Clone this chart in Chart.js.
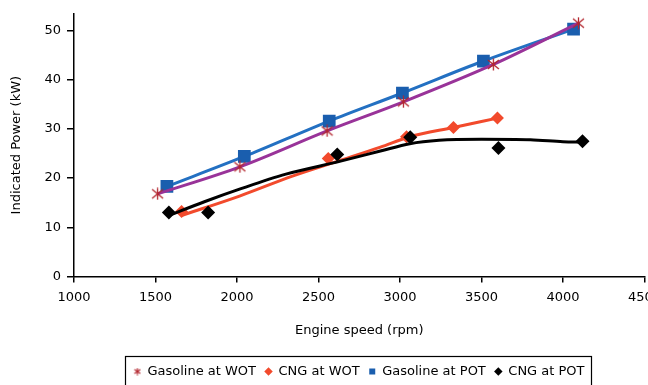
<!DOCTYPE html>
<html><head><meta charset="utf-8">
<script src="https://cdn.jsdelivr.net/npm/chart.js@4/dist/chart.umd.min.js"></script>
<style>html,body{margin:0;padding:0;overflow:hidden;background:#fff}#wrap{position:relative;width:668px;height:388px}</style>
</head><body><div id="wrap"><canvas id="c"></canvas></div>
<script>
// Data
const gasWotRpm = [1513, 2018, 2553, 3021, 3573, 4095];
const gasWotKw  = [16.8, 22.3, 29.6, 35.5, 43.1, 51.5];
const cngWotRpm = [1660, 2560, 3040, 3328, 3598];
const cngWotKw  = [13.2, 24.0, 28.4, 30.3, 32.2];
const gasPotRpm = [1570, 2045, 2566, 3015, 3512, 4065];
const gasPotKw  = [18.3, 24.4, 31.6, 37.3, 43.8, 50.3];
const cngPotRpm = [1582, 1823, 2615, 3063, 3604, 4120];
const cngPotKw  = [13.0, 13.0, 24.8, 28.3, 26.1, 27.5];
// red line for CNG at WOT
const cngWotLineRpm = [1660, 2020, 2340, 2634, 2880, 3060, 3328, 3598];
const cngWotLineKw  = [12.4, 16.4, 20.4, 23.6, 26.3, 28.4, 30.3, 32.2];
// black trend line for CNG at POT
const cngPotTrendRpm = [1582, 1800, 2020, 2300, 2630, 2880, 3060, 3240, 3500, 3800, 4000, 4120];
const cngPotTrendKw  = [12.4, 15.2, 17.8, 20.8, 23.4, 25.5, 27.0, 27.7, 27.9, 27.8, 27.4, 27.3];
const seriesNames = ['Gasoline at WOT', 'CNG at WOT', 'Gasoline at POT', 'CNG at POT'];
const xTicksMin = 1000, xTicksMax = 4500, xStep = 500;
const yTicksMin = 0, yTicksMax = 50, yStep = 10;

const pts = (xs, ys) => xs.map((x, i) => ({x, y: ys[i]}));

function asterisk(size, color, lw) {
  const c = document.createElement('canvas'); c.width = size; c.height = size;
  const g = c.getContext('2d'); g.strokeStyle = color; g.lineWidth = lw; g.lineCap = 'butt';
  const m = size / 2, a = 1;
  g.beginPath();
  g.moveTo(a, a + 1); g.lineTo(size - a, size - a - 1);
  g.moveTo(size - a, a + 1); g.lineTo(a, size - a - 1);
  g.moveTo(m, 0.5); g.lineTo(m, size - 0.5);
  g.stroke();
  return c;
}
const astBig = asterisk(13, '#B3262E', 1.3);
const astSmall = asterisk(8, '#B3262E', 1.2);

const FONT = 'DejaVu Sans';

const legendBox = {
  id: 'legendBox',
  afterDraw(chart) {
    const lg = chart.legend; if (!lg || !lg.legendHitBoxes.length) return;
    const hb = lg.legendHitBoxes;
    const left = Math.min(...hb.map(h => h.left)) - 9;
    const right = Math.max(...hb.map(h => h.left + h.width)) + 6;
    const top = hb[0].top - 9;
    const ctx = chart.ctx; ctx.save();
    ctx.strokeStyle = '#000'; ctx.lineWidth = 1.2;
    ctx.strokeRect(Math.round(left) + 0.5, Math.round(top) + 0.5, Math.round(right - left), 60);
    ctx.restore();
  }
};

new Chart(document.getElementById('c'), {
  type: 'scatter',
  data: {
    datasets: [
      { label: seriesNames[0], data: pts(gasWotRpm, gasWotKw), showLine: true,
        borderColor: '#993399', borderWidth: 3, cubicInterpolationMode: 'monotone',
        pointStyle: astBig, pointBorderColor: '#B3262E', pointBackgroundColor: '#B3262E', order: 4 },
      { label: seriesNames[1], data: pts(cngWotRpm, cngWotKw), showLine: false,
        borderColor: '#F24A2C', pointStyle: 'rectRot', pointRadius: 6.5, pointBorderWidth: 0,
        pointBackgroundColor: '#F24A2C', pointBorderColor: '#F24A2C', order: 2 },
      { label: seriesNames[2], data: pts(gasPotRpm, gasPotKw), showLine: true,
        borderColor: '#2370C2', borderWidth: 3, cubicInterpolationMode: 'monotone',
        pointStyle: 'rect', pointRadius: 9, pointBorderWidth: 0,
        pointBackgroundColor: '#1A5EAE', pointBorderColor: '#1A5EAE', order: 5 },
      { label: seriesNames[3], data: pts(cngPotRpm, cngPotKw), showLine: false,
        borderColor: '#000', pointStyle: 'rectRot', pointRadius: 7, pointBorderWidth: 0,
        pointBackgroundColor: '#000', pointBorderColor: '#000', order: 0 },
      { label: '', data: pts(cngPotTrendRpm, cngPotTrendKw), showLine: true,
        borderColor: '#000', borderWidth: 3, cubicInterpolationMode: 'monotone',
        pointRadius: 0, order: 1 },
      { label: '', data: pts(cngWotLineRpm, cngWotLineKw), showLine: true,
        borderColor: '#F24A2C', borderWidth: 3, cubicInterpolationMode: 'monotone',
        pointRadius: 0, order: 3 }
    ]
  },
  options: {
    responsive: true, maintainAspectRatio: false, animation: false,
    layout: { padding: { top: 12, left: 0, right: 0, bottom: 0 } },
    plugins: {
      tooltip: { enabled: false },
      legend: {
        position: 'bottom', fullSize: false,
        labels: {
          color: '#000', font: { family: FONT, size: 13 },
          usePointStyle: true, boxWidth: 7, boxHeight: 6, padding: 9,
          filter: item => item.text !== '',
          sort: (a, b) => a.datasetIndex - b.datasetIndex,
          generateLabels(chart) {
            const items = Chart.defaults.plugins.legend.labels.generateLabels(chart);
            items.forEach(it => { if (it.datasetIndex === 0) it.pointStyle = astSmall; it.lineWidth = 0; });
            return items;
          }
        }
      }
    },
    scales: {
      x: {
        type: 'linear', min: xTicksMin, max: xTicksMax,
        afterFit: s => { s.height = 79.5; },
        ticks: { stepSize: xStep, color: '#000', font: { family: FONT, size: 13 }, padding: 7, maxRotation: 0,
                 callback: v => String(v) },
        grid: { drawOnChartArea: false, drawTicks: true, tickLength: 6, color: '#000', lineWidth: 1.5 },
        border: { color: '#000', width: 1.5 },
        title: { display: true, text: 'Engine speed (rpm)', color: '#000', font: { family: FONT, size: 13 }, padding: { top: 0, bottom: 17.7 } }
      },
      y: {
        type: 'linear', min: yTicksMin, max: 53.4,
        afterFit: s => { s.width = 74; },
        afterBuildTicks: s => { s.ticks = s.ticks.filter(t => t.value % yStep === 0 && t.value <= yTicksMax); },
        ticks: { stepSize: yStep, color: '#000', font: { family: FONT, size: 13 }, padding: 6,
                 callback: v => String(v) },
        grid: { drawOnChartArea: false, drawTicks: true, tickLength: 7, color: '#000', lineWidth: 1.5 },
        border: { color: '#000', width: 1.5 },
        title: { display: true, text: 'Indicated Power (kW)', color: '#000', font: { family: FONT, size: 13 }, padding: { top: 9, bottom: 0 } }
      }
    }
  },
  plugins: [legendBox]
});
</script></body></html>
